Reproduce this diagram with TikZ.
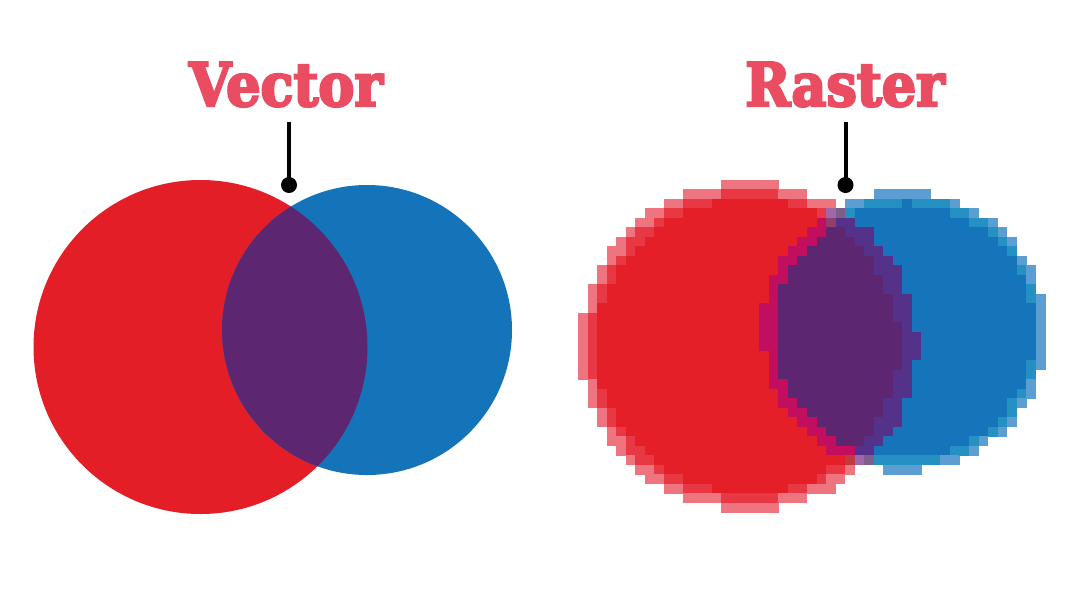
\documentclass[tikz,border=0pt]{standalone}
\usepackage{fontspec}
\newfontfamily\titlefont[FakeStretch=0.9,FakeBold=4]{DejaVu Serif}
\definecolor{vred}{HTML}{E41E27}
\definecolor{vblue}{HTML}{1574B9}
\definecolor{vpurple}{HTML}{5C2670}
\definecolor{ttl}{HTML}{EA4D62}
% raster cell colours: code = 4*red level + blue level
\definecolor{c1}{HTML}{5C9DD2}
\definecolor{c2}{HTML}{2590C2}
\definecolor{c3}{HTML}{1675BA}
\definecolor{c4}{HTML}{EE747F}
\definecolor{c5}{HTML}{A066AA}
\definecolor{c6}{HTML}{7F5F8A}
\definecolor{c7}{HTML}{55328A}
\definecolor{c8}{HTML}{E73843}
\definecolor{c9}{HTML}{C0393F}
\definecolor{c10}{HTML}{8E3F6E}
\definecolor{c11}{HTML}{55328A}
\definecolor{c12}{HTML}{E41F28}
\definecolor{c13}{HTML}{C20E5E}
\definecolor{c14}{HTML}{C20E5E}
\definecolor{c15}{HTML}{5C2670}
\tikzset{
  title/.style={text=ttl, anchor=base, inner sep=0pt, font=\titlefont\bfseries\fontsize{30}{30}\selectfont},
  stem/.style={line width=2pt, black},
  pin/.style={circle, fill=black, inner sep=0pt, minimum size=8pt},
}
\begin{document}
\begin{tikzpicture}[x=0.5pt, y=-0.5pt]
\useasboundingbox (0,0) rectangle (1080,600);
\fill[white] (0,0) rectangle (1080,600);

% ---------- Vector ----------
\fill[vred] (200.5,347) circle (83.5pt);
\fill[vblue] (367,330) circle (72.5pt);
\begin{scope}
  \clip (367,330) circle (72.5pt);
  \fill[vpurple] (200.5,347) circle (83.5pt);
\end{scope}

% ---------- Raster ----------
\foreach \kk in {-2,...,47}{
  \foreach \jj in {-1,...,34}{
    \pgfmathsetmacro\cxa{597.3+9.53*\kk}
    \pgfmathsetmacro\cya{189.3+9.5*\jj}
    \pgfmathsetmacro\drr{sqrt(((\cxa+4.765-748)/103)^2+((\cya+4.75-346)/100)^2)*100}
    \pgfmathsetmacro\dbb{sqrt(((\cxa+4.765-904)/101.5)^2+((\cya+4.75-331)/100)^2)*100}
    \pgfmathtruncatemacro\rlev{\drr<147?3:(\drr<155?2:(\drr<164?1:0))}
    \pgfmathtruncatemacro\blev{\dbb<127.5?3:(\dbb<134?2:(\dbb<140?1:0))}
    \pgfmathtruncatemacro\cellcode{4*\rlev+\blev}
    \ifnum\cellcode>0
      \fill[fill=c\cellcode] (\cxa,\cya) rectangle ++(9.9,9.85);
    \fi
  }
}

% ---------- Titles and pins ----------
\node[title] (vtitle) at (286,106) {Vector};
\node[title] (rtitle) at (845,106) {Raster};

\coordinate (vtop) at (289,122);
\node[pin] (vpin) at (289,185) {};
\draw[stem] (vtop) -- (vpin.center);

\coordinate (rtop) at (845.5,122);
\node[pin] (rpin) at (845.5,185) {};
\draw[stem] (rtop) -- (rpin.center);
\end{tikzpicture}
\end{document}
